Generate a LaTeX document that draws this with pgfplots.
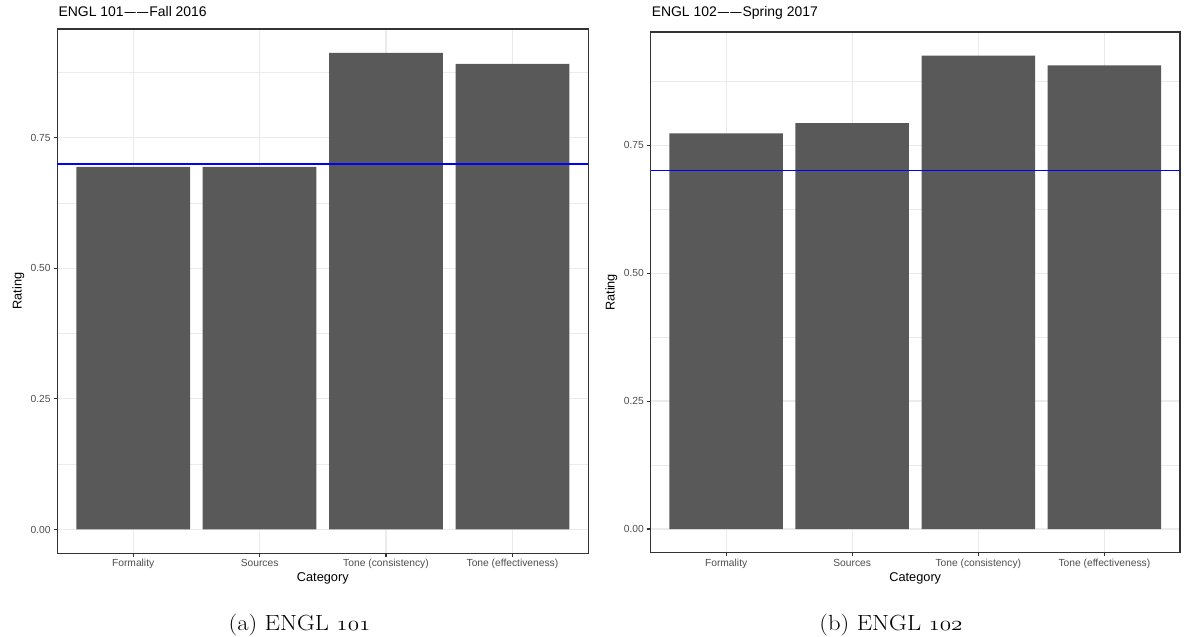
\documentclass[border=0pt]{standalone}
\usepackage{fontspec}
\usepackage{graphicx}
\usepackage{pgfplots}
\pgfplotsset{compat=1.18}
\newfontfamily\hv{Liberation Sans}
\definecolor{barc}{HTML}{595959}
\definecolor{gridc}{HTML}{EBEBEB}
\definecolor{bordc}{HTML}{333333}
\definecolor{tickc}{HTML}{4D4D4D}
\definecolor{hline}{HTML}{0000FF}
\newcommand{\dd}{\kern1bp\scalebox{1.45}[1]{\symbol{"2013}}\kern1.2bp\scalebox{1.45}[1]{\symbol{"2013}}\kern1bp}
\pgfplotsset{
  ggbw/.style={
    scale only axis,
    anchor=south west,
    xmin=0.4, xmax=4.6,
    xtick={1,2,3,4},
    xticklabels={Formality,Sources,Tone (consistency),Tone (effectiveness)},
    ytick={0,0.25,0.5,0.75},
    yticklabels={0.00,0.25,0.50,0.75},
    minor ytick={0.125,0.375,0.625,0.875},
    grid=both,
    major grid style={draw=gridc, line width=1.2bp},
    minor grid style={draw=gridc, line width=0.6bp},
    axis line style={draw=bordc, line width=1.1bp},
    tick style={draw=bordc, line width=1.1bp},
    tick align=outside,
    major tick length=3.5bp,
    minor tick length=0pt,
    xtick pos=bottom, ytick pos=left,
    xticklabel style={font=\hv\fontsize{10.3}{12}\selectfont, text=tickc, anchor=north, inner sep=0pt, yshift=-2.5bp},
    yticklabel style={font=\hv\fontsize{10.3}{12}\selectfont, text=tickc, anchor=east, inner sep=0pt, xshift=-3bp},
    xlabel={Category}, ylabel={Rating},
    label style={font=\hv\fontsize{12.8}{15}\selectfont, inner sep=0pt},
    title style={font=\hv\fontsize{14}{17}\selectfont, anchor=base west, inner sep=0pt},
  }
}
\begin{document}
\begin{tikzpicture}
\path[use as bounding box] (0,0) rectangle (1184bp,637bp);
% ---------- (a) ENGL 101 ----------
\begin{axis}[ggbw,
  at={(57.3bp,83.7bp)}, width=531bp, height=524.3bp,
  ymin=-0.0456, ymax=0.9576,
  title={ENGL 101\dd Fall 2016},
  title style={at={(axis description cs:0.002,1.012)}},
  xlabel style={at={(axis description cs:0.5,-0.0547)}, anchor=base},
  ylabel style={at={(axis description cs:-0.0674,0.5)}, anchor=base},
]
\addplot[ybar, bar width=0.9, fill=barc, draw=none] coordinates {
  (1,0.694) (2,0.694) (3,0.912) (4,0.891)
};
\addplot[draw=hline, line width=1.3bp] coordinates {(0.4,0.699) (4.6,0.699)};
\end{axis}
% ---------- (b) ENGL 102 ----------
\begin{axis}[ggbw,
  at={(650.5bp,84.3bp)}, width=529.5bp, height=520.7bp,
  ymin=-0.0463, ymax=0.9713,
  title={ENGL 102\dd Spring 2017},
  title style={at={(axis description cs:0.002,1.0192)}},
  xlabel style={at={(axis description cs:0.5,-0.0551)}, anchor=base},
  ylabel style={at={(axis description cs:-0.0676,0.5)}, anchor=base},
]
\addplot[ybar, bar width=0.9, fill=barc, draw=none] coordinates {
  (1,0.773) (2,0.793) (3,0.925) (4,0.906)
};
\addplot[draw=hline, line width=1.3bp] coordinates {(0.4,0.701) (4.6,0.701)};
\end{axis}
% ---------- captions ----------
\node[anchor=base, inner sep=0pt] at (299.5bp,6.3bp)
  {\scalebox{1.12}[1]{\fontsize{22}{26}\selectfont (a) ENGL {\usefont{OML}{cmm}{m}{it}101}}};
\node[anchor=base, inner sep=0pt] at (891bp,6.3bp)
  {\scalebox{1.12}[1]{\fontsize{22}{26}\selectfont (b) ENGL {\usefont{OML}{cmm}{m}{it}102}}};
\end{tikzpicture}
\end{document}
